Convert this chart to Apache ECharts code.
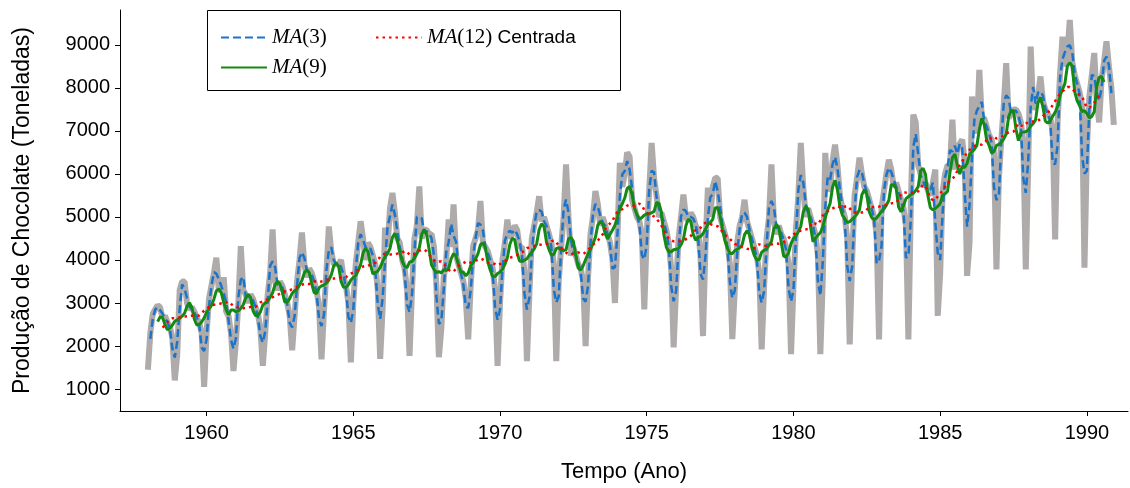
<!DOCTYPE html>
<html>
<head>
<meta charset="utf-8">
<script src="https://cdn.jsdelivr.net/npm/echarts@6/dist/echarts.min.js"></script>
<style>
html,body{margin:0;padding:0;background:#fff;}
#chart{width:1130px;height:488px;}
</style>
</head>
<body>
<div id="chart"></div>
<script>
// Monthly chocolate production (tonnes), Jan 1958 - Dec 1990
const startYear = 1958;
const production = [
  1450, 2300, 2750, 2850, 2950, 2900, 2650, 2700, 2550, 2450, 2200, 1200, // 1958
  1800, 3300, 3500, 3500, 3000, 2850, 2900, 2800, 2650, 2550, 2300, 1050, // 1959
  2300, 3100, 3400, 3700, 4050, 3300, 3300, 3600, 2800, 2700, 2300, 1420, // 1960
  2100, 3000, 4320, 3300, 3200, 3000, 3200, 3100, 2900, 2750, 2400, 1540, // 1961
  2300, 3200, 3700, 4710, 3500, 3300, 3500, 3400, 3200, 3000, 2700, 1900, // 1962
  2700, 3500, 4000, 4640, 3900, 3600, 3800, 3700, 3500, 3300, 2900, 1690, // 1963
  2800, 3700, 4780, 4200, 3900, 3900, 3900, 4000, 3600, 3400, 3000, 1620, // 1964
  3000, 3900, 4400, 4900, 4500, 4000, 4400, 4300, 4100, 3900, 3300, 1700, // 1965
  2900, 4750, 4300, 5200, 5560, 5100, 4500, 4400, 4000, 3800, 3300, 1770, // 1966
  3300, 4500, 4800, 5710, 4500, 4700, 4700, 4600, 4600, 4300, 3400, 1740, // 1967
  2400, 3600, 4000, 4940, 4300, 5290, 4100, 3900, 3700, 3500, 3100, 2155, // 1968
  3400, 4320, 4500, 4700, 5370, 4400, 4300, 4200, 4000, 3800, 3300, 1540, // 1969
  3000, 4000, 4400, 4940, 4500, 4600, 4800, 4700, 4300, 4300, 3700, 1650, // 1970
  3200, 4500, 4800, 5100, 5480, 4900, 5000, 4800, 4600, 4400, 3900, 1650, // 1971
  3500, 4300, 5000, 6220, 5000, 4100, 4300, 4100, 3900, 3800, 3500, 2000, // 1972
  3600, 4600, 5000, 5600, 5300, 4800, 5000, 4800, 4600, 4400, 4000, 3000, // 1973
  4500, 6260, 5700, 6000, 6500, 6400, 5400, 5200, 5000, 4900, 4600, 2850, // 1974
  4600, 5600, 6720, 5900, 5500, 5000, 5100, 4900, 4700, 4400, 3800, 1970, // 1975
  3350, 4500, 5000, 5520, 5000, 4900, 5100, 5000, 4800, 4700, 4100, 2230, // 1976
  4300, 5680, 5000, 5700, 5910, 5900, 5000, 4800, 4600, 4400, 3900, 2160, // 1977
  3300, 4400, 4800, 5000, 5400, 4900, 4700, 4500, 4300, 4100, 3700, 1920, // 1978
  3400, 4500, 5000, 6220, 4900, 4600, 4800, 4600, 4500, 4300, 3900, 1810, // 1979
  3400, 4700, 5500, 6720, 5700, 5000, 5200, 5000, 4800, 4600, 4100, 1810, // 1980
  3600, 6490, 5600, 5700, 6300, 6680, 6200, 5500, 5200, 5000, 4500, 2040, // 1981
  4000, 5500, 5900, 6380, 6000, 5700, 5600, 5400, 5200, 5000, 4600, 2155, // 1982
  5200, 5600, 6000, 6330, 6100, 5700, 5800, 5600, 5400, 5200, 4800, 2155, // 1983
  5300, 7380, 7200, 6200, 6000, 5700, 5800, 5600, 5500, 5800, 6100, 2700, // 1984
  3700, 5600, 6000, 6200, 6200, 7260, 6100, 6600, 6700, 6800, 6300, 3630, // 1985
  4400, 7800, 7000, 7000, 8420, 7300, 7300, 7100, 6900, 6800, 6500, 3780, // 1986
  5900, 6800, 7600, 8575, 7300, 7400, 7500, 7500, 7400, 7200, 6700, 3780, // 1987
  6200, 8960, 7500, 7600, 7800, 8265, 7700, 7500, 7400, 7300, 7000, 4475, // 1988
  7200, 8300, 9190, 8500, 8800, 9580, 8600, 8300, 8100, 7900, 7600, 3820, // 1989
  6600, 7800, 8300, 8810, 7700, 7200, 8200, 8600, 9080, 8500, 8000, 7140  // 1990
];
const xTicks = [1960, 1965, 1970, 1975, 1980, 1985, 1990];
const yTicks = [1000, 2000, 3000, 4000, 5000, 6000, 7000, 8000, 9000];
const seriesNames = ['MA(3)', 'MA(9)', 'MA(12) Centrada'];

// time coordinate of each month
const times = production.map((_, i) => startYear + i / 12);

// centred moving average of odd order k
function centredMA(vals, k) {
  const h = (k - 1) / 2, out = [];
  for (let t = h; t < vals.length - h; t++) {
    let s = 0;
    for (let j = t - h; j <= t + h; j++) s += vals[j];
    out.push([times[t], s / k]);
  }
  return out;
}
// 2x12 centred moving average
function centredMA12(vals) {
  const out = [];
  for (let t = 6; t < vals.length - 6; t++) {
    let s = 0.5 * vals[t - 6] + 0.5 * vals[t + 6];
    for (let j = t - 5; j <= t + 5; j++) s += vals[j];
    out.push([times[t], s / 12]);
  }
  return out;
}

const raw = production.map((v, i) => [times[i], v]);
const ma3 = centredMA(production, 3);
const ma9 = centredMA(production, 9);
const ma12 = centredMA12(production);

const chart = echarts.init(document.getElementById('chart'), null, {renderer: 'canvas'});
const font = '"Liberation Sans", Arial, sans-serif';
const serif = '"Liberation Serif", "DejaVu Serif", serif';
const legendFmt = function (name) {
  if (name === 'MA(3)') return '{i|MA}{r|(3)}';
  if (name === 'MA(9)') return '{i|MA}{r|(9)}';
  return '{i|MA}{r|(12)} Centrada';
};
const legendText = {
  fontFamily: font, fontSize: 19, color: '#000',
  rich: {
    i: { fontFamily: serif, fontStyle: 'italic', fontSize: 21, color: '#000' },
    r: { fontFamily: serif, fontSize: 21, color: '#000' }
  }
};
const plain = v => String(Math.round(v));

chart.setOption({
  animation: false,
  backgroundColor: '#fff',
  grid: { left: 120, right: 2, top: 10, bottom: 76 },
  xAxis: {
    type: 'value', min: 1957.05, max: 1991.4,
    name: 'Tempo (Ano)', nameLocation: 'middle', nameGap: 50,
    nameTextStyle: { fontFamily: font, fontSize: 22, color: '#000' },
    axisLine: { show: true, lineStyle: { color: '#000', width: 1 } },
    axisTick: { show: true, customValues: xTicks, length: 5, lineStyle: { color: '#000' } },
    axisLabel: { customValues: xTicks, formatter: plain, fontFamily: font, fontSize: 20, color: '#000', margin: 12 },
    splitLine: { show: false }
  },
  yAxis: {
    type: 'value', min: 490, max: 9810,
    name: 'Produção de Chocolate (Toneladas)', nameLocation: 'middle', nameGap: 86,
    nameTextStyle: { fontFamily: font, fontSize: 23, color: '#000' },
    axisLine: { show: true, lineStyle: { color: '#000', width: 1 } },
    axisTick: { show: true, customValues: yTicks, length: 5, lineStyle: { color: '#000' } },
    axisLabel: { customValues: yTicks, formatter: plain, fontFamily: font, fontSize: 20, color: '#000', margin: 10 },
    splitLine: { show: false }
  },
  legend: [
    {
      data: ['MA(3)', 'MA(9)'], orient: 'vertical', left: 215, top: 22,
      itemWidth: 46, itemHeight: 14, itemGap: 9, formatter: legendFmt, textStyle: legendText,
      itemStyle: { opacity: 0 }
    },
    {
      data: ['MA(12) Centrada'], orient: 'vertical', left: 370, top: 22,
      itemWidth: 46, itemHeight: 14, formatter: legendFmt, textStyle: legendText,
      itemStyle: { opacity: 0 }
    }
  ],
  graphic: [{
    type: 'rect', left: 207, top: 10, z: 100, silent: true,
    shape: { width: 413, height: 80 },
    style: { fill: 'rgba(0,0,0,0)', stroke: '#000', lineWidth: 1 }
  }],
  series: [
    {
      name: 'Produção', type: 'line', data: raw, showSymbol: false, symbol: 'none',
      lineStyle: { color: '#afabab', width: 6 }, itemStyle: { color: '#afabab' }, z: 1
    },
    {
      name: seriesNames[0], type: 'line', data: ma3, showSymbol: false, symbol: 'none',
      lineStyle: { color: '#1a74cc', width: 2.5, type: [8, 4] }, itemStyle: { color: '#1a74cc' }, z: 2
    },
    {
      name: seriesNames[1], type: 'line', data: ma9, showSymbol: false, symbol: 'none',
      lineStyle: { color: '#138a13', width: 3 }, itemStyle: { color: '#138a13' }, z: 3
    },
    {
      name: seriesNames[2], type: 'line', data: ma12, showSymbol: false, symbol: 'none',
      lineStyle: { color: '#ff0000', width: 2.5, type: [2.5, 4] }, itemStyle: { color: '#ff0000' }, z: 4
    }
  ]
});
</script>
</body>
</html>
